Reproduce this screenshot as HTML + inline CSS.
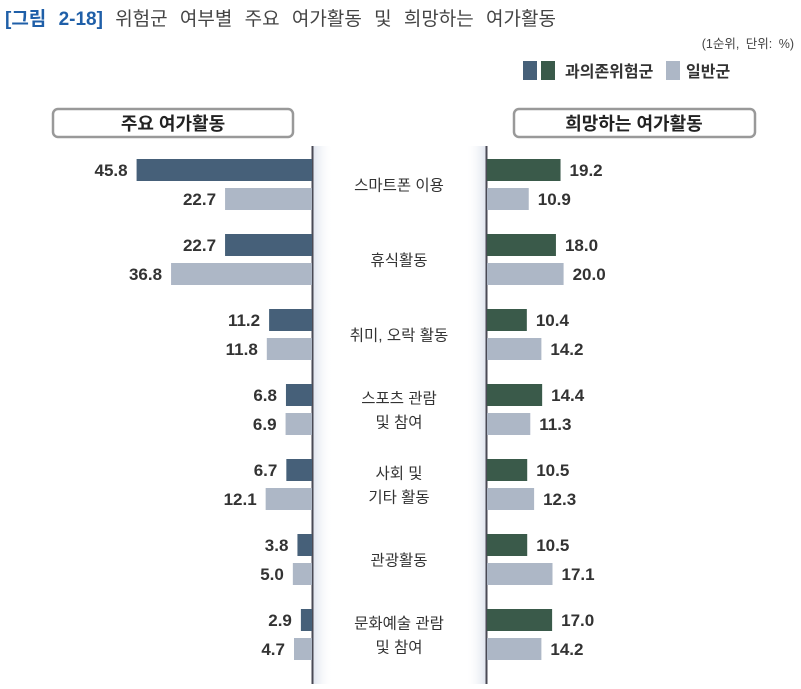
<!DOCTYPE html>
<html><head><meta charset="utf-8"><style>
body{margin:0;background:#fff;width:801px;height:684px;overflow:hidden;font-family:"Liberation Sans","Noto Sans CJK KR",sans-serif}
</style></head><body>
<svg id="c" width="801" height="684" xmlns="http://www.w3.org/2000/svg" style="font-family:'Liberation Sans','Noto Sans CJK KR',sans-serif">
<defs>
<linearGradient id="gl" x1="0" x2="1"><stop offset="0" stop-color="#dfe4ee"/><stop offset="1" stop-color="#fff" stop-opacity="0"/></linearGradient>
<linearGradient id="gr" x1="1" x2="0"><stop offset="0" stop-color="#dfe4ee"/><stop offset="1" stop-color="#fff" stop-opacity="0"/></linearGradient>
</defs>
<text x="5" y="25" font-size="19" word-spacing="7"><tspan fill="#1f5fa8" font-weight="bold">[그림 2-18]</tspan><tspan fill="#444"> 위험군 여부별 주요 여가활동 및 희망하는 여가활동</tspan></text>
<text x="794" y="48" font-size="12.5" fill="#444" text-anchor="end" word-spacing="3">(1순위, 단위: %)</text>
<g>
<rect x="523" y="61" width="14" height="19" fill="#466079"/>
<rect x="541" y="61" width="14" height="19" fill="#3a5a4a"/>
<text x="565" y="77" font-size="16" font-weight="bold" fill="#333">과의존위험군</text>
<rect x="666" y="61" width="14" height="19" fill="#adb7c6"/>
<text x="686" y="77" font-size="16" font-weight="bold" fill="#333">일반군</text>
</g>
<g>
<rect x="53" y="109" width="240" height="28" rx="5" fill="#fff" stroke="#999" stroke-width="2.5"/>
<text x="173" y="130" font-size="18" font-weight="bold" fill="#222" text-anchor="middle">주요 여가활동</text>
</g>
<g>
<rect x="514" y="109" width="241" height="28" rx="5" fill="#fff" stroke="#999" stroke-width="2.5"/>
<text x="634" y="130" font-size="18" font-weight="bold" fill="#222" text-anchor="middle">희망하는 여가활동</text>
</g>
<rect x="313" y="146" width="20" height="538" fill="url(#gl)"/>
<rect x="466" y="146" width="20" height="538" fill="url(#gr)"/>
<line x1="312.5" y1="146" x2="312.5" y2="684" stroke="#4a4a55" stroke-width="2"/>
<line x1="486.5" y1="146" x2="486.5" y2="684" stroke="#4a4a55" stroke-width="2"/>
<g id="marks"></g>
</svg>
<script>
const categories=[["스마트폰 이용"],["휴식활동"],["취미, 오락 활동"],["스포츠 관람","및 참여"],["사회 및","기타 활동"],["관광활동"],["문화예술 관람","및 참여"]];
const mainRisk=[45.8,22.7,11.2,6.8,6.7,3.8,2.9];
const mainGeneral=[22.7,36.8,11.8,6.9,12.1,5.0,4.7];
const hopeRisk=[19.2,18.0,10.4,14.4,10.5,10.5,17.0];
const hopeGeneral=[10.9,20.0,14.2,11.3,12.3,17.1,14.2];
const NS='http://www.w3.org/2000/svg';
const g=document.getElementById('marks');
const scale=v=>v*3.83;
const rowY=i=>159+i*75;
const LX=312,RX=487,BH=22;
function mk(t,a){const e=document.createElementNS(NS,t);for(const k in a)e.setAttribute(k,a[k]);g.appendChild(e);return e;}
categories.forEach((c,i)=>{
  const y0=rowY(i),y1=y0+29;
  [[mainRisk[i],y0,'#466079'],[mainGeneral[i],y1,'#adb7c6']].forEach(([v,y,col],k)=>{
    const w=scale(v);
    const r=mk('rect',{x:LX-w,y:y,width:w,height:BH,fill:col});
    
    
    const t=mk('text',{x:LX-w-9,y:y+17,'font-size':17,'font-weight':'bold',fill:'#333','text-anchor':'end'});
    t.textContent=v.toFixed(1);
    
    
  });
  [[hopeRisk[i],y0,'#3a5a4a'],[hopeGeneral[i],y1,'#adb7c6']].forEach(([v,y,col])=>{
    const w=scale(v);
    const r=mk('rect',{x:RX,y:y,width:w,height:BH,fill:col});
    
    
    const t=mk('text',{x:RX+w+9,y:y+17,'font-size':17,'font-weight':'bold',fill:'#333'});
    t.textContent=v.toFixed(1);
    
    
  });
  const cy=y0+25.5;
  c.forEach((line,j)=>{
    const t=mk('text',{x:399,y:cy+6+(j-(c.length-1)/2)*24,'font-size':15.5,fill:'#333','text-anchor':'middle'});
    t.textContent=line;
    
    
  });
});
</script>
</body></html>
